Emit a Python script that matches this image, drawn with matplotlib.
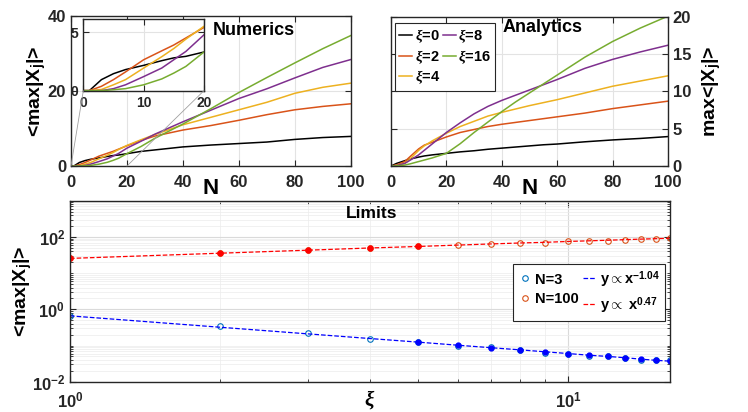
import numpy as np
import matplotlib
matplotlib.use('Agg')
import matplotlib.pyplot as plt
from matplotlib.patches import ConnectionPatch
from matplotlib.ticker import FixedLocator, LogLocator, NullFormatter, FuncFormatter

plt.rcParams['font.family'] = ['Liberation Sans', 'DejaVu Sans']
plt.rcParams['font.weight'] = 'bold'
plt.rcParams['mathtext.fontset'] = 'custom'
plt.rcParams['mathtext.rm'] = 'Liberation Sans:bold'
plt.rcParams['mathtext.bf'] = 'Liberation Sans:bold'
plt.rcParams['mathtext.it'] = 'Liberation Serif:italic'

# ---- data ----
xi_labels = ['0', '2', '4', '8', '16']
colors = ['#000000', '#D95319', '#EDB120', '#7E2F8E', '#77AC30']

# numerics (top left)
n_num = [0, 1, 3, 5, 7, 10, 13, 15, 17, 20, 25, 30, 40, 50, 60, 70, 80, 90, 100]
num_xi0 = [0, 0, 0.94, 1.45, 1.8, 2.16, 2.56, 2.8, 2.93, 3.3, 3.9, 4.3, 5.1, 5.6, 6.0, 6.4, 7.1, 7.6, 7.9]
num_xi2 = [0, 0, 0.37, 0.94, 1.6, 2.64, 3.4, 3.9, 4.5, 5.4, 6.8, 8.0, 9.6, 10.8, 12.2, 13.7, 15.0, 15.9, 16.6]
num_xi4 = [0, 0, 0.1, 0.5, 0.94, 1.93, 2.9, 3.6, 4.4, 5.5, 7.0, 8.4, 11.0, 13.0, 15.0, 17.0, 19.4, 21.0, 22.1]
num_xi8 = [0, 0, 0, 0.17, 0.5, 1.2, 1.93, 2.64, 3.35, 4.77, 6.6, 8.5, 11.8, 14.9, 18.0, 20.6, 23.5, 26.3, 28.4]
num_xi16 = [0, 0, 0, 0.08, 0.17, 0.5, 1.0, 1.5, 2.07, 3.3, 5.2, 7.4, 11.2, 15.3, 19.6, 23.6, 27.5, 31.3, 34.8]

# analytics (top right)
n_ana = [0, 2, 5, 7, 10, 12, 15, 20, 25, 30, 35, 40, 45, 50, 55, 60, 70, 80, 90, 100]
ana_xi0 = [0, 0.35, 0.72, 0.95, 1.2, 1.35, 1.5, 1.7, 1.9, 2.05, 2.25, 2.4, 2.55, 2.7, 2.85, 2.95, 3.25, 3.5, 3.7, 3.95]
ana_xi2 = [0, 0.15, 0.6, 1.3, 2.3, 2.8, 3.2, 3.9, 4.5, 4.9, 5.3, 5.6, 5.85, 6.1, 6.35, 6.6, 7.1, 7.7, 8.2, 8.7]
ana_xi4 = [0, 0.08, 0.36, 1.0, 2.1, 2.7, 3.4, 4.4, 5.3, 6.0, 6.7, 7.2, 7.65, 8.1, 8.5, 8.9, 9.8, 10.7, 11.4, 12.1]
ana_xi8 = [0, 0.05, 0.36, 0.8, 1.5, 2.1, 3.0, 4.5, 5.8, 7.0, 8.0, 8.8, 9.5, 10.2, 10.9, 11.6, 13.1, 14.3, 15.3, 16.2]
ana_xi16 = [0, 0.02, 0.13, 0.3, 0.6, 0.8, 1.1, 1.7, 3.0, 4.5, 5.9, 7.3, 8.6, 9.8, 11.0, 12.2, 14.6, 16.7, 18.5, 20.1]

# limits (bottom)
xi = [1, 2, 3, 4, 5, 6, 7, 8, 9, 10, 11, 12, 13, 14, 15, 16]
lim_n3 = [0.65, 0.35, 0.22, 0.15, 0.124, 0.10, 0.089, 0.073, 0.063, 0.060, 0.053, 0.050, 0.046, 0.041, 0.0405, 0.039]
lim_n100 = [25.9, 36, 44, 50, 54.6, 59, 63, 67, 70, 75, 76.5, 78, 81, 85, 85.5, 90.9]
fit_n3 = [0.66, 0.32, 0.21, 0.156, 0.124, 0.102, 0.087, 0.076, 0.067, 0.060, 0.054, 0.050, 0.046, 0.042, 0.039, 0.037]
fit_n100 = [25.5, 35.5, 43, 49.5, 54.5, 59.5, 64, 68, 71, 75, 78, 81, 84, 87, 89.5, 92]

num_series = [num_xi0, num_xi2, num_xi4, num_xi8, num_xi16]
ana_series = [ana_xi0, ana_xi2, ana_xi4, ana_xi8, ana_xi16]

spine_c = '#262626'
grid_c = '#e3e3e3'


def style(ax, fs=11):
    for s in ax.spines.values():
        s.set_color(spine_c)
        s.set_linewidth(1.0)
    ax.tick_params(direction='in', top=True, right=True, length=4, width=0.8,
                   colors=spine_c, labelsize=fs)
    for lab in ax.get_xticklabels() + ax.get_yticklabels():
        lab.set_fontweight('bold')


fig = plt.figure(figsize=(7.48, 4.12), dpi=100)

# ---- top left: numerics ----
ax1 = fig.add_axes([0.0949, 0.597, 0.374, 0.364])
for y, c in zip(num_series, colors):
    ax1.plot(n_num, y, color=c, lw=1.1)
ax1.set_xlim(0, 100)
ax1.set_ylim(0, 40)
ax1.set_xticks([0, 20, 40, 60, 80, 100])
ax1.set_yticks([0, 20, 40])
ax1.grid(True, color=grid_c, lw=0.8)
ax1.set_axisbelow(True)
style(ax1, 12)
ax1.tick_params(axis='x', pad=6.5)
ax1.set_xlabel('N', fontsize=16, fontweight='bold', labelpad=-9)
ax1.set_ylabel(r'<max|X$_{\mathbf{j}}$|>', fontsize=14, fontweight='bold', labelpad=0)
ax1.text(0.506, 0.906, 'Numerics', transform=ax1.transAxes, fontsize=13,
         fontweight='bold', ha='left', va='center')

# inset
axi = fig.add_axes([0.1114, 0.780, 0.1613, 0.1733])
for y, c in zip(num_series, colors):
    axi.plot(n_num, y, color=c, lw=1.1)
axi.set_xlim(0, 20)
axi.set_ylim(0, 6.1)
axi.set_xticks([0, 10, 20])
axi.set_yticks([0, 5])
axi.grid(True, color=grid_c, lw=0.8)
axi.set_axisbelow(True)
style(axi, 10)
for p in [(0, 0), (20, 0)]:
    con = ConnectionPatch(xyA=p, coordsA=ax1.transData, xyB=p, coordsB=axi.transData,
                          color='#a0a0a0', lw=0.6)
    fig.add_artist(con)

# ---- top right: analytics ----
ax2 = fig.add_axes([0.5227, 0.597, 0.3703, 0.362])
for y, c, lab in zip(ana_series, colors, xi_labels):
    ax2.plot(n_ana, y, color=c, lw=1.1, label=r'$\xi$=' + lab)
ax2.set_xlim(0, 100)
ax2.set_ylim(0, 20)
ax2.set_xticks([0, 20, 40, 60, 80, 100])
ax2.set_yticks([0, 5, 10, 15, 20])
ax2.grid(True, color=grid_c, lw=0.8)
ax2.set_axisbelow(True)
ax2.yaxis.tick_right()
ax2.yaxis.set_label_position('right')
style(ax2, 12)
ax2.tick_params(labelleft=False, labelright=True, left=True)
ax2.tick_params(axis='x', pad=6.5)
ax2.set_xlabel('N', fontsize=16, fontweight='bold', labelpad=-9)
ax2.set_ylabel(r'max<|X$_{\mathbf{j}}$|>', fontsize=14, fontweight='bold', labelpad=6)
ax2.text(0.404, 0.928, 'Analytics', transform=ax2.transAxes, fontsize=13,
         fontweight='bold', ha='left', va='center')
leg = ax2.legend(loc='upper left', bbox_to_anchor=(0.014, 0.958), ncol=2,
                 borderaxespad=0, fontsize=10.5, handlelength=0.9, handletextpad=0.15,
                 columnspacing=0.2, labelspacing=0.2, borderpad=0.3,
                 fancybox=False, edgecolor=spine_c, framealpha=1)
leg.get_frame().set_linewidth(0.8)
for t in leg.get_texts():
    t.set_fontweight('bold')

# ---- bottom: limits ----
ax3 = fig.add_axes([0.0936, 0.0735, 0.802, 0.4393])
ax3.set_xscale('log')
ax3.set_yscale('log')
h1, = ax3.plot(xi, lim_n3, 'o', mfc='none', mec='#0072BD', ms=4, mew=0.8, label='N=3')
h2, = ax3.plot(xi, lim_n100, 'o', mfc='none', mec='#D95319', ms=4, mew=0.8, label='N=100')
h3, = ax3.plot(xi, fit_n3, '--', color='#0000FF', lw=0.9, label=r'y$\propto$x$^{\mathbf{-1.04}}$')
h4, = ax3.plot(xi, fit_n100, '--', color='#FF0000', lw=0.9, label=r'y$\propto$ x$^{\mathbf{0.47}}$')
ax3.plot(xi[4:], fit_n3[4:], '.', color='#0000FF', ms=7)
ax3.plot(xi[:5], fit_n100[:5], '.', color='#FF0000', ms=7)
ax3.set_xlim(1, 16)
ax3.set_ylim(1e-2, 1e3)
ax3.xaxis.set_major_locator(FixedLocator([1, 10]))
ax3.yaxis.set_major_locator(FixedLocator([1e-2, 1, 1e2]))
ax3.xaxis.set_minor_locator(LogLocator(base=10, subs=np.arange(2, 10), numticks=20))
ax3.yaxis.set_minor_locator(LogLocator(base=10, subs=np.arange(1, 10), numticks=30))
ax3.xaxis.set_minor_formatter(NullFormatter())
ax3.yaxis.set_minor_formatter(NullFormatter())
fmt = FuncFormatter(lambda v, p: r'$\mathbf{10^{%d}}$' % int(round(np.log10(v))))
ax3.xaxis.set_major_formatter(fmt)
ax3.yaxis.set_major_formatter(fmt)
ax3.grid(True, which='major', color='#dadada', lw=0.8)
ax3.grid(True, which='minor', color='#ececec', lw=0.5)
ax3.set_axisbelow(True)
style(ax3, 12)
ax3.tick_params(which='minor', direction='in', top=True, right=True, length=2.5,
                width=0.6, colors=spine_c)
ax3.tick_params(axis='x', pad=6)
ax3.set_xlabel(r'$\xi$', fontsize=15, labelpad=-16)
ax3.set_ylabel(r'<max|X$_{\mathbf{j}}$|>', fontsize=14, fontweight='bold', labelpad=-2)
ax3.text(0.502, 0.927, 'Limits', transform=ax3.transAxes, fontsize=12.5,
         fontweight='bold', ha='center', va='center')
leg3 = ax3.legend(handles=[h1, h2, h3, h4], loc='center', bbox_to_anchor=(0.865, 0.495),
                  ncol=2, fontsize=10.5, handlelength=0.9, handletextpad=0.25,
                  columnspacing=0.3, labelspacing=0.35, borderpad=0.35,
                  fancybox=False, edgecolor=spine_c, framealpha=1)
leg3.get_frame().set_linewidth(0.8)
for t in leg3.get_texts():
    t.set_fontweight('bold')

fig.savefig('out.png', dpi=100)
